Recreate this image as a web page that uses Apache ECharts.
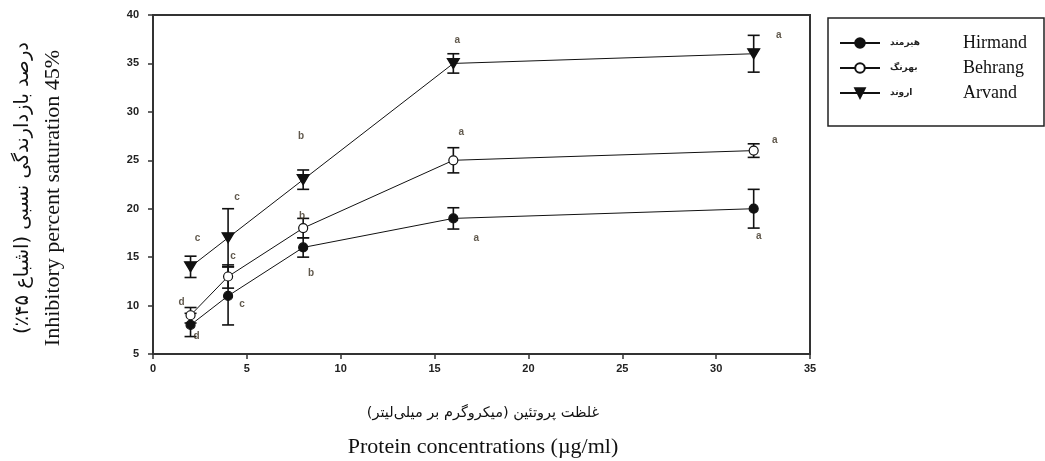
<!DOCTYPE html>
<html>
<head>
<meta charset="utf-8">
<script src="https://cdn.jsdelivr.net/npm/echarts@6/dist/echarts.min.js"></script>
<style>
  html, body { margin: 0; padding: 0; background: #fff; }
  #chart { width: 1045px; height: 461px; }
</style>
</head>
<body>
<div id="chart"></div>
<script>
// protein concentration (µg/ml)
var concentrations = [2, 4, 8, 16, 32];

var hirmand = [8, 11, 16, 19, 20];
var hirmandErr = [1.2, 3, 1, 1.1, 2];
var hirmandLetters = ['d', 'c', 'b', 'a', 'a'];

var behrang = [9, 13, 18, 25, 26];
var behrangErr = [0.8, 1.2, 1, 1.3, 0.7];
var behrangLetters = ['d', 'c', 'b', 'a', 'a'];

var arvand = [14, 17, 23, 35, 36];
var arvandErr = [1.1, 3, 1, 1, 1.9];
var arvandLetters = ['c', 'c', 'b', 'a', 'a'];

var names = [
    {fa: 'هیرمند', en: 'Hirmand'},
    {fa: 'بهرنگ', en: 'Behrang'},
    {fa: 'اروند', en: 'Arvand'}
];

// pixel offsets of the significance letters, relative to each point
var hirmandOff = [[6, 11], [14, 8], [8, 26], [23, 20], [5, 28]];
var behrangOff = [[-9, -13], [5, -20], [-1, -12], [8, -28], [21, -10]];
var arvandOff = [[7, -29], [9, -41], [-2, -43], [4, -23], [25, -18]];

var ink = '#111';
var downTri = 'path://M0,0 L10,0 L5,9 Z';

function pairs(ys) {
    return concentrations.map(function (x, i) { return [x, ys[i]]; });
}

function errSeries(ys, err) {
    return {
        type: 'custom',
        z: 1,
        silent: true,
        data: concentrations.map(function (x, i) { return [x, ys[i] - err[i], ys[i] + err[i]]; }),
        renderItem: function (params, api) {
            var lo = api.coord([api.value(0), api.value(1)]);
            var hi = api.coord([api.value(0), api.value(2)]);
            var w = 6;
            var st = {stroke: ink, lineWidth: 1.6};
            return {
                type: 'group',
                children: [
                    {type: 'line', shape: {x1: lo[0], y1: lo[1], x2: hi[0], y2: hi[1]}, style: st},
                    {type: 'line', shape: {x1: lo[0] - w, y1: lo[1], x2: lo[0] + w, y2: lo[1]}, style: st},
                    {type: 'line', shape: {x1: hi[0] - w, y1: hi[1], x2: hi[0] + w, y2: hi[1]}, style: st}
                ]
            };
        }
    };
}

function letterSeries(ys, letters, off) {
    return {
        type: 'scatter',
        z: 5,
        silent: true,
        symbolSize: 0,
        data: concentrations.map(function (x, i) {
            return {
                value: [x, ys[i]],
                label: {show: true, formatter: letters[i], position: 'inside', offset: off[i]}
            };
        }),
        label: {color: '#3a3020', fontSize: 10, fontWeight: 'bold', fontFamily: 'Liberation Sans, Arial'}
    };
}

function lineSeries(nm, ys, symbol, size, fill) {
    return {
        name: nm,
        type: 'line',
        z: 3,
        data: pairs(ys),
        symbol: symbol,
        symbolSize: size,
        showSymbol: true,
        lineStyle: {color: ink, width: 1},
        itemStyle: {color: fill, borderColor: ink, borderWidth: 1.2},
        emphasis: {disabled: true}
    };
}

var chart = echarts.init(document.getElementById('chart'));
var axisCommon = {
    axisLine: {show: true, lineStyle: {color: '#333', width: 2}},
    axisTick: {show: true, inside: false, length: 5, lineStyle: {color: '#333', width: 1.5}},
    splitLine: {show: false},
    axisLabel: {color: '#222', fontSize: 11, fontWeight: 'bold', fontFamily: 'Liberation Sans, Arial'}
};

chart.setOption({
    animation: false,
    grid: {left: 153, top: 15, right: 235, bottom: 107, show: true, borderColor: '#333', borderWidth: 2},
    xAxis: Object.assign({
        type: 'value', min: 0, max: 35, interval: 5
    }, axisCommon, {axisLabel: Object.assign({}, axisCommon.axisLabel, {margin: 9})}),
    yAxis: Object.assign({
        type: 'value', min: 5, max: 40, interval: 5
    }, axisCommon, {axisLabel: Object.assign({}, axisCommon.axisLabel, {margin: 14})}),
    legend: {
        left: 828, top: 18,
        orient: 'vertical',
        borderColor: '#222', borderWidth: 1.5,
        padding: [16, 11, 24, 11],
        itemGap: 7,
        itemWidth: 40, itemHeight: 12,
        data: names.map(function (n) { return n.en; }),
        formatter: function (nm) {
            var n = names.filter(function (d) { return d.en === nm; })[0];
            return '{fa|' + n.fa + '}{en|' + n.en + '}';
        },
        textStyle: {
            lineHeight: 16,
            rich: {
                fa: {width: 73, padding: [0, 0, 0, 5], lineHeight: 16, fontSize: 9, fontWeight: 'bold', color: '#222', fontFamily: 'DejaVu Sans'},
                en: {width: 70, lineHeight: 16, fontSize: 18, color: '#111', fontFamily: 'Liberation Serif, Times New Roman, serif'}
            }
        }
    },
    graphic: [
        {type: 'text', x: 23, y: 188, rotation: Math.PI / 2,
            style: {text: 'درصد بازدارندگی نسبی (اشباع ۴۵٪)', align: 'center', verticalAlign: 'middle',
                font: '19.5px "DejaVu Sans", serif', fill: '#111'}},
        {type: 'text', x: 53, y: 198, rotation: Math.PI / 2,
            style: {text: 'Inhibitory percent saturation 45%', align: 'center', verticalAlign: 'middle',
                font: '22px "Liberation Serif", "Times New Roman", serif', fill: '#111'}},
        {type: 'text', x: 483, y: 413,
            style: {text: 'غلظت پروتئین (میکروگرم بر میلی‌لیتر)', align: 'center', verticalAlign: 'middle',
                font: '14.5px "DejaVu Sans", serif', fill: '#111'}},
        {type: 'text', x: 483, y: 447,
            style: {text: 'Protein concentrations (µg/ml)', align: 'center', verticalAlign: 'middle',
                font: '22px "Liberation Serif", "Times New Roman", serif', fill: '#111'}}
    ],
    series: [
        errSeries(hirmand, hirmandErr),
        errSeries(behrang, behrangErr),
        errSeries(arvand, arvandErr),
        lineSeries('Hirmand', hirmand, 'circle', 9, ink),
        lineSeries('Behrang', behrang, 'circle', 9, '#fff'),
        lineSeries('Arvand', arvand, downTri, [12, 10], ink),
        letterSeries(hirmand, hirmandLetters, hirmandOff),
        letterSeries(behrang, behrangLetters, behrangOff),
        letterSeries(arvand, arvandLetters, arvandOff)
    ]
});
</script>
</body>
</html>
